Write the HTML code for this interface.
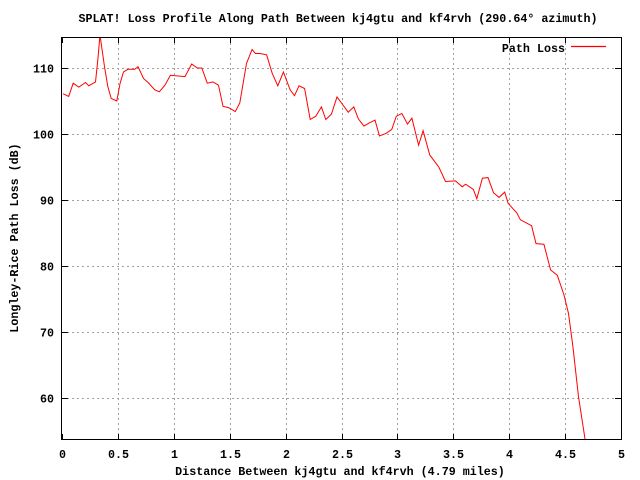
<!DOCTYPE html>
<html><head><meta charset="utf-8"><style>
body{margin:0;background:#fff}
svg{display:block}
text{font-family:"Liberation Mono","DejaVu Sans Mono",monospace;font-size:11.7px;font-weight:bold;fill:#000}
</style></head><body>
<svg id="chart" width="640" height="480" xmlns="http://www.w3.org/2000/svg">
<rect width="640" height="480" fill="#fff"/>
<text x="338" y="22" text-anchor="middle">SPLAT! Loss Profile Along Path Between kj4gtu and kf4rvh (290.64° azimuth)</text>
<text x="340" y="475" text-anchor="middle">Distance Between kj4gtu and kf4rvh (4.79 miles)</text>
<text transform="translate(18,238) rotate(-90)" text-anchor="middle">Longley-Rice Path Loss (dB)</text>
<g id="grid"></g>
<g id="ticks"></g>
<clipPath id="clip"><rect x="62" y="37" width="559" height="403"/></clipPath>
<path id="line" fill="none" stroke="#f00" stroke-width="1" clip-path="url(#clip)"/>
<rect x="61.5" y="37.5" width="560" height="402" fill="none" stroke="#000" stroke-width="1"/>
<g>
<text x="565" y="52" text-anchor="end">Path Loss</text>
<line x1="571" y1="46.5" x2="606" y2="46.5" stroke="#ff0000" stroke-width="1.2"/>
</g>
</svg>
<script>
const xTicks=[0,0.5,1,1.5,2,2.5,3,3.5,4,4.5,5];
const xTickLabels=["0","0.5","1","1.5","2","2.5","3","3.5","4","4.5","5"];
const yTicks=[60,70,80,90,100,110];
const yTickLabels=["60","70","80","90","100","110"];
const distances=[0.01,0.06,0.10,0.15,0.21,0.24,0.30,0.32,0.34,0.38,0.41,0.44,0.49,0.52,0.55,0.59,0.65,0.68,0.73,0.77,0.83,0.87,0.92,0.97,1.10,1.16,1.21,1.25,1.30,1.35,1.40,1.44,1.49,1.55,1.59,1.65,1.70,1.73,1.77,1.83,1.88,1.93,1.98,2.04,2.08,2.12,2.17,2.22,2.27,2.32,2.36,2.41,2.46,2.50,2.56,2.61,2.65,2.70,2.75,2.80,2.84,2.90,2.95,2.99,3.04,3.09,3.13,3.19,3.23,3.29,3.37,3.43,3.52,3.58,3.61,3.68,3.71,3.76,3.81,3.86,3.91,3.96,3.99,4.07,4.10,4.20,4.24,4.31,4.37,4.43,4.49,4.53,4.57,4.62,4.68];
const pathLoss=[106.1,105.7,107.7,107.1,107.8,107.3,107.9,111.2,115.0,110.2,107.2,105.4,105.0,107.7,109.4,109.8,109.8,110.2,108.4,107.8,106.7,106.4,107.4,108.9,108.7,110.6,110.0,110.0,107.7,107.9,107.4,104.2,104.0,103.4,104.7,110.7,112.8,112.2,112.2,112.0,109.2,107.3,109.4,106.7,105.8,107.3,106.9,102.2,102.7,104.1,102.2,103.0,105.6,104.7,103.3,104.1,102.3,101.2,101.7,102.1,99.7,100.1,100.7,102.7,103.1,101.5,102.4,98.3,100.5,96.8,95.0,92.8,92.9,92.0,92.4,91.6,90.2,93.3,93.4,91.1,90.4,91.2,89.5,88.0,87.0,86.1,83.4,83.3,79.4,78.6,75.6,72.8,67.8,60.2,53.6];
const X0=62,X1=621,XMIN=0,XMAX=5;
function xs(d){return X0+(d-XMIN)/(XMAX-XMIN)*(X1-X0);}
function ys(v){return 68+(110-v)*6.6;}
const NS="http://www.w3.org/2000/svg";
const grid=document.getElementById('grid'),ticks=document.getElementById('ticks'),svg=document.getElementById('chart');
function mk(tag,attrs,parent){const e=document.createElementNS(NS,tag);for(const k in attrs)e.setAttribute(k,attrs[k]);parent.appendChild(e);return e;}
xTicks.forEach((t,i)=>{
  const x=Math.round(xs(t))+0.5;
  if(i>0&&i<xTicks.length-1){
    const g=mk('line',{x1:x,y1:38,x2:x,y2:439,stroke:'#a0a0a0','stroke-dasharray':'2,3'},grid);
    
    
  }
  const t1=mk('line',{x1:x,y1:440,x2:x,y2:434,stroke:'#000'},ticks);
  
  
  const t2=mk('line',{x1:x,y1:37,x2:x,y2:43,stroke:'#000'},ticks);
  
  
  const lb=mk('text',{x:x,y:458,'text-anchor':'middle'},svg);
  lb.textContent=xTickLabels[i];
  
  
});
yTicks.forEach((t,i)=>{
  const y=Math.round(ys(t))+0.5;
  const g=mk('line',{x1:62,y1:y,x2:621,y2:y,stroke:'#a0a0a0','stroke-dasharray':'2,3'},grid);
  
  
  const t1=mk('line',{x1:62,y1:y,x2:68,y2:y,stroke:'#000'},ticks);
  
  
  const t2=mk('line',{x1:615,y1:y,x2:621,y2:y,stroke:'#000'},ticks);
  
  
  const lb=mk('text',{x:54,y:y+4,'text-anchor':'end'},svg);
  lb.textContent=yTickLabels[i];
  
  
});
document.getElementById('line').setAttribute('d',distances.map((d,i)=>(i?'L':'M')+xs(d).toFixed(1)+','+ys(pathLoss[i]).toFixed(1)).join(''));
</script>
</body></html>
